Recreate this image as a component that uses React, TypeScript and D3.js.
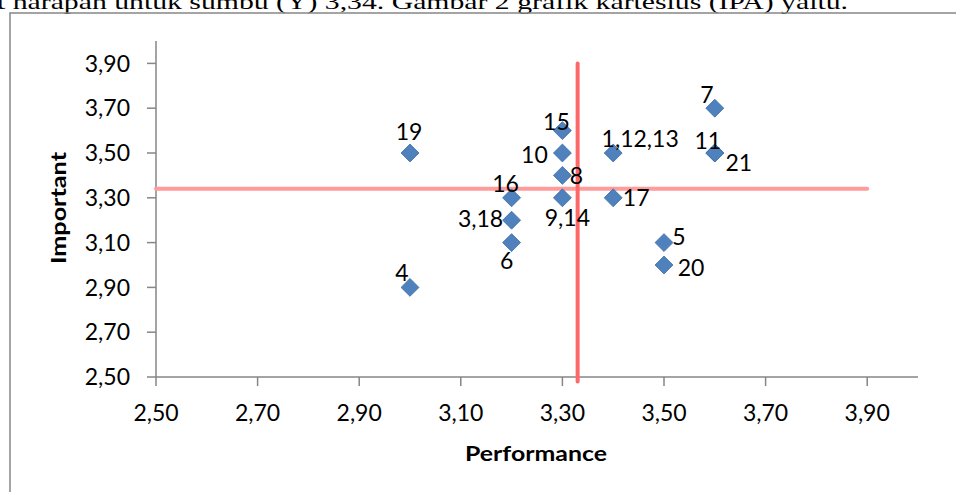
import React from "react";
import * as d3 from "d3";

const labels = ["19", "4", "16", "3,18", "6", "15", "10", "8", "9,14", "1,12,13", "17", "5", "20", "7", "11", "21"];
const performance = [3.0, 3.0, 3.2, 3.2, 3.2, 3.3, 3.3, 3.3, 3.3, 3.4, 3.4, 3.5, 3.5, 3.6, 3.6, 3.6];
const important = [3.5, 2.9, 3.3, 3.2, 3.1, 3.6, 3.5, 3.4, 3.3, 3.5, 3.3, 3.1, 3.0, 3.7, 3.5, 3.5];
const xTicks = [2.5, 2.7, 2.9, 3.1, 3.3, 3.5, 3.7, 3.9];
const yTicks = [2.5, 2.7, 2.9, 3.1, 3.3, 3.5, 3.7, 3.9];
const meanPerformance = 3.33;
const meanImportant = 3.34;

// label placement offsets (px) relative to marker centre
const labelOffsets: [number, number][] = [
  [-1, -21], [-8, -15], [-6, -14], [-31, -1], [-5, 18], [-6, -9], [-28, 2], [14, 0],
  [5, 20], [27, -14], [23, 0], [15, -6], [27, 3], [-8, -13], [-7, -12], [24, 10],
];

const fmt = (v: number) => v.toFixed(2).replace(".", ",");

export default function App() {
  const W = 956, H = 492;
  const x = d3.scaleLinear().domain([2.5, 4.0]).range([156, 918]);
  const y = d3.scaleLinear().domain([2.5, 4.0]).range([377, 41]);
  const axisColor = "#868686";
  const font = "Lato, 'Open Sans', sans-serif";
  const fs = 23;
  const diamond = d3.symbol().type(d3.symbolSquare).size(160)();

  return (
    <svg width={W} height={H} style={{ position: "absolute", left: 0, top: 0, background: "#fff" }}>
      <text x={-3} y={9} fontFamily="'Liberation Serif', 'Times New Roman', serif" fontSize={22}
        textLength={851} lengthAdjust="spacingAndGlyphs">
        t harapan untuk sumbu (Y) 3,34. Gambar 2 grafik kartesius (IPA) yaitu.
      </text>
      <rect x={10} y={13} width={W} height={H} fill="none" stroke={axisColor} strokeWidth={1.5} />

      {/* axes */}
      <line x1={x(2.5)} x2={x(2.5)} y1={y(4.0)} y2={y(2.5)} stroke={axisColor} strokeWidth={1.5} />
      <line x1={x(2.5)} x2={x(4.0)} y1={y(2.5)} y2={y(2.5)} stroke={axisColor} strokeWidth={1.5} />
      {yTicks.map((t) => (
        <g key={"y" + t}>
          <line x1={x(2.5) - 9} x2={x(2.5)} y1={y(t)} y2={y(t)} stroke={axisColor} strokeWidth={1.5} />
          <text x={130} y={y(t)} dy="0.36em" textAnchor="end" fontFamily={font} fontSize={fs} fill="#000">
            {fmt(t)}
          </text>
        </g>
      ))}
      {xTicks.map((t) => (
        <g key={"x" + t}>
          <line x1={x(t)} x2={x(t)} y1={y(2.5)} y2={y(2.5) + 9} stroke={axisColor} strokeWidth={1.5} />
          <text x={x(t)} y={421} textAnchor="middle" fontFamily={font} fontSize={fs} fill="#000">
            {fmt(t)}
          </text>
        </g>
      ))}

      {/* mean lines */}
      <line x1={x(2.5)} x2={x(3.9)} y1={y(meanImportant)} y2={y(meanImportant)}
        stroke="#FF9B9B" strokeWidth={4} strokeLinecap="round" />
      <line x1={x(meanPerformance)} x2={x(meanPerformance)} y1={y(2.48)} y2={y(3.9)}
        stroke="#FF6868" strokeWidth={4} strokeLinecap="round" />

      {/* points */}
      {performance.map((p, i) => (
        <path key={"p" + i} d={diamond || ""}
          transform={`translate(${x(p)},${y(important[i])}) rotate(45)`}
          fill="#4F81BD" stroke="#3F6FA8" strokeWidth={0.8} />
      ))}
      {performance.map((p, i) => (
        <text key={"l" + i} x={x(p) + labelOffsets[i][0]} y={y(important[i]) + labelOffsets[i][1]}
          dy="0.36em" textAnchor="middle" fontFamily={font} fontSize={fs} fill="#000">
          {labels[i]}
        </text>
      ))}

      <text transform={`translate(66,208) rotate(-90)`} textAnchor="middle" fontFamily={font}
        fontSize={21} fontWeight="bold" fill="#000" textLength={112} lengthAdjust="spacingAndGlyphs">Important</text>
      <text x={536} y={461} textAnchor="middle" fontFamily={font} fontSize={21} fontWeight="bold" fill="#000"
        textLength={142} lengthAdjust="spacingAndGlyphs">
        Performance
      </text>
    </svg>
  );
}
